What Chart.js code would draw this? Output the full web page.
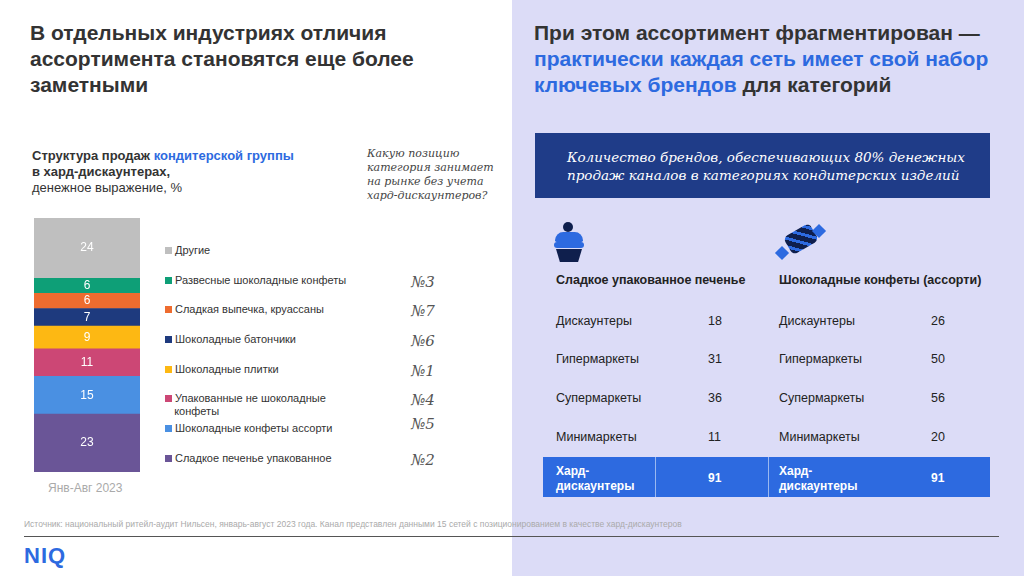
<!DOCTYPE html>
<html><head><meta charset="utf-8">
<script src="https://cdn.jsdelivr.net/npm/chart.js@4"></script>
<style>
body{margin:0;width:1024px;height:576px;position:relative;overflow:hidden;font-family:Arial,"Liberation Sans",sans-serif;background:#fff;color:#222}
.a{position:absolute}
.serif{font-family:"DejaVu Serif","Liberation Serif",serif;font-style:italic}
.leg{position:absolute;left:165px;font-size:11px;color:#333;line-height:13px}
.leg i{display:inline-block;width:7px;height:7px;margin-right:3px}
.rank{position:absolute;left:411px;font-size:15px;color:#555}
.row{position:absolute;font-size:12.5px;color:#222}
</style></head><body>
<div class="a" style="left:512px;top:0;width:512px;height:576px;background:#dcdcf7"></div>
<div class="a" style="left:30px;top:20px;font-size:21px;font-weight:bold;line-height:26px;color:#333">В отдельных индустриях отличия<br>ассортимента становятся еще более<br>заметными</div>
<div class="a" style="left:534px;top:20px;font-size:21px;font-weight:bold;line-height:26px;color:#333">При этом ассортимент фрагментирован —<br><span style="color:#2d6ae0">практически каждая сеть имеет свой набор<br>ключевых брендов</span> для категорий</div>
<div class="a" style="left:32px;top:148px;font-size:13px;line-height:16px;font-weight:bold;color:#333">Структура продаж <span style="color:#2d6ae0">кондитерской группы</span><br>в хард-дискаунтерах,<br><span style="font-weight:normal">денежное выражение, %</span></div>
<div class="a serif" style="left:367px;top:147px;font-size:11px;line-height:14px;color:#444">Какую позицию<br>категория занимает<br>на рынке без учета<br>хард-дискаунтеров?</div>
<div class="a" style="left:34px;top:218px;width:106px;height:254px"><canvas id="c"></canvas></div>
<div class="a" style="left:48px;top:481px;font-size:12px;color:#aaa">Янв-Авг 2023</div>
<div id="leg"></div>
<div class="a" style="left:535px;top:133px;width:455px;height:65px;background:#1f3c88"></div>
<div class="a serif" style="left:567px;top:148px;font-size:13.5px;line-height:18px;color:#fff">Количество брендов, обеспечивающих 80% денежных<br>продаж каналов в категориях кондитерских изделий</div>
<div class="a" style="left:555px;top:232px;width:28px;height:10px;background:#2d6ae0;border-radius:10px 10px 2px 2px"></div>
<div class="a" style="left:563px;top:222px;width:10px;height:10px;background:#0f1f4d;border-radius:50%"></div>
<div class="a" style="left:554px;top:242px;width:30px;height:6px;background:#2d6ae0;border-radius:3px"></div>
<div class="a" style="left:556px;top:249px;width:26px;height:13px;background:#0f1f4d;clip-path:polygon(0 0,100% 0,85% 100%,15% 100%)"></div>
<div class="a" style="left:786px;top:229px;width:30px;height:20px;background:repeating-linear-gradient(45deg,#0f1f4d 0 5px,#2d6ae0 5px 8px);transform:rotate(-30deg);border-radius:5px"></div>
<div class="a" style="left:777px;top:248px;width:10px;height:10px;background:#2d6ae0;transform:rotate(45deg)"></div>
<div class="a" style="left:814px;top:226px;width:10px;height:10px;background:#2d6ae0;transform:rotate(45deg)"></div>
<div class="a" style="left:556px;top:273px;font-size:12.5px;font-weight:bold;color:#222">Сладкое упакованное печенье</div>
<div class="a" style="left:779px;top:273px;font-size:12.5px;font-weight:bold;color:#222">Шоколадные конфеты (ассорти)</div>
<div id="tbl"></div>
<div class="a" style="left:543px;top:457px;width:447px;height:40px;background:#2d6ae0"></div>
<div class="a" style="left:655px;top:457px;width:1px;height:40px;background:#9ab8f0"></div>
<div class="a" style="left:768px;top:457px;width:1px;height:40px;background:#9ab8f0"></div>
<div class="a" style="left:556px;top:464px;font-size:12px;font-weight:bold;color:#fff;line-height:15px">Хард-<br>дискаунтеры</div>
<div class="a" style="left:779px;top:464px;font-size:12px;font-weight:bold;color:#fff;line-height:15px">Хард-<br>дискаунтеры</div>
<div class="a" style="left:708px;top:471px;font-size:12px;font-weight:bold;color:#fff">91</div>
<div class="a" style="left:931px;top:471px;font-size:12px;font-weight:bold;color:#fff">91</div>
<div class="a" style="left:24px;top:519px;font-size:8.5px;color:#aaa">Источник: национальный ритейл-аудит Нильсен, январь-август 2023 года. Канал представлен данными 15 сетей с позиционированием в качестве хард-дискаунтеров</div>
<div class="a" style="left:24px;top:536px;width:975px;height:1px;background:#555"></div>
<div class="a" style="left:24px;top:543px;font-size:22px;font-weight:900;color:#2d6ae0;letter-spacing:1px">NIQ</div>
<script>
const categories=["Сладкое печенье упакованное","Шоколадные конфеты ассорти","Упакованные не шоколадные конфеты","Шоколадные плитки","Шоколадные батончики","Сладкая выпечка, круассаны","Развесные шоколадные конфеты","Другие"];
const shares=[23,15,11,9,7,6,6,24];
const ranks=["№2","№5","№4","№1","№6","№7","№3",""];
const colors=["#6a5597","#4a90e2","#cc4775","#fdb813","#1e3a7e","#ee6c2f","#0e9f77","#bfbfbf"];
const channels=["Дискаунтеры","Гипермаркеты","Супермаркеты","Минимаркеты"];
const cookies=[18,31,36,11];
const candies=[26,50,56,20];
const legY=[459,429,399,370,340,310,281,251];
let h="";
categories.forEach((c,i)=>{
  const lab=c==="Упакованные не шоколадные конфеты"?"Упакованные не шоколадные<br>&nbsp;&nbsp;&nbsp;конфеты":c;
  h+=`<div class="leg" style="top:${legY[i]-7}px"><i style="background:${colors[i]}"></i>${lab}</div>`;
  if(ranks[i])h+=`<div class="rank serif" style="top:${legY[i]-(i==1?14:8)}px">${ranks[i]}</div>`;
});
document.getElementById("leg").innerHTML=h;
const rowY=[321,359,398,437];let t="";
channels.forEach((c,i)=>{
  t+=`<div class="row" style="left:556px;top:${rowY[i]-7}px">${c}</div><div class="row" style="left:708px;top:${rowY[i]-7}px">${cookies[i]}</div>`;
  t+=`<div class="row" style="left:779px;top:${rowY[i]-7}px">${c}</div><div class="row" style="left:931px;top:${rowY[i]-7}px">${candies[i]}</div>`;
});
document.getElementById("tbl").innerHTML=t;
const labelPlugin={id:"lbl",afterDatasetsDraw(ch){const x=ch.ctx;x.save();x.fillStyle="#fff";x.font="12px Arial";x.textAlign="center";x.textBaseline="middle";
 ch.data.datasets.forEach((d,i)=>{const el=ch.getDatasetMeta(i).data[0];x.fillText(d.data[0],el.x,(el.y+el.base)/2);});x.restore();}};
new Chart(document.getElementById("c"),{type:"bar",
 data:{labels:["Янв-Авг 2023"],datasets:shares.map((v,i)=>({label:categories[i],data:[v],backgroundColor:colors[i],barPercentage:1,categoryPercentage:1}))},
 options:{responsive:true,maintainAspectRatio:false,animation:false,layout:{padding:0},
  plugins:{legend:{display:false},tooltip:{enabled:false}},
  scales:{x:{stacked:true,display:false},y:{stacked:true,display:false,min:0,max:101}}},
 plugins:[labelPlugin]});
</script>
</body></html>
